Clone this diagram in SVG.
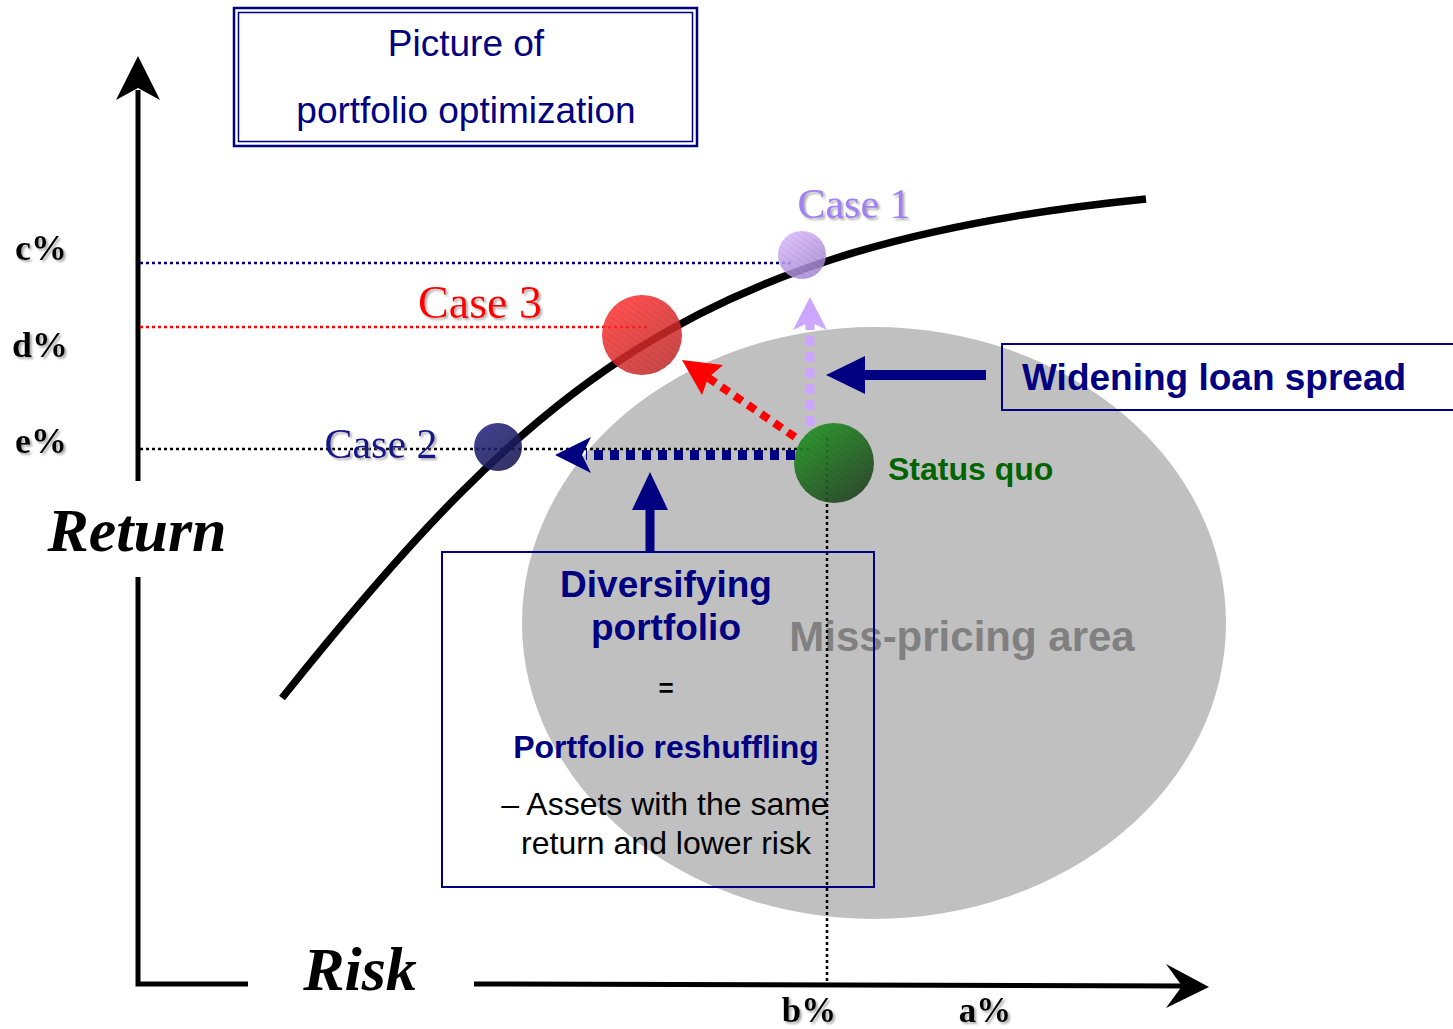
<svg xmlns="http://www.w3.org/2000/svg" width="1453" height="1029" viewBox="0 0 1453 1029">
  <defs>
    <style>
      .sans { font-family: "Liberation Sans", Arial, sans-serif; }
      .serif { font-family: "Liberation Serif", "Times New Roman", serif; }
      .navy { fill: #000080; }
      .axis { stroke: #000; stroke-width: 5; fill: none; }
      .guide { fill: none; stroke-width: 2.5; stroke-dasharray: 3 3; }
      .frame { fill: none; stroke: #000080; }
      .shadow { filter: url(#soft-shadow); }
    </style>
    <filter id="soft-shadow" x="-10%" y="-20%" width="130%" height="150%">
      <feDropShadow dx="2" dy="2" stdDeviation="0.8" flood-color="#888" flood-opacity="0.7"/>
    </filter>
    <pattern id="hatch" width="5" height="5" patternUnits="userSpaceOnUse" patternTransform="rotate(-55)">
      <line x1="0" y1="0" x2="0" y2="5" stroke="#000" stroke-width="1" stroke-opacity="0.12"/>
    </pattern>
    <linearGradient id="g-lav" x1="0.2" y1="0.1" x2="0.8" y2="0.9">
      <stop offset="0" stop-color="#D6B4FA"/>
      <stop offset="1" stop-color="#A486D2"/>
    </linearGradient>
    <linearGradient id="g-red" x1="0.2" y1="0.1" x2="0.8" y2="0.9">
      <stop offset="0" stop-color="#FF3030"/>
      <stop offset="1" stop-color="#C02828"/>
    </linearGradient>
    <linearGradient id="g-navy" x1="0.2" y1="0.1" x2="0.8" y2="0.9">
      <stop offset="0" stop-color="#262680"/>
      <stop offset="1" stop-color="#181852"/>
    </linearGradient>
    <linearGradient id="g-green" x1="0.2" y1="0.1" x2="0.8" y2="0.9">
      <stop offset="0" stop-color="#228E22"/>
      <stop offset="1" stop-color="#224622"/>
    </linearGradient>
  </defs>

  <rect width="1453" height="1029" fill="#fff"/>

  <!-- region of mis-priced loans -->
  <g id="miss-pricing-area">
    <ellipse cx="874" cy="623" rx="352" ry="296" fill="#C0C0C0"/>
    <text class="sans" x="962" y="651" font-size="42" font-weight="bold" fill="#808080" text-anchor="middle">Miss-pricing area</text>
  </g>

  <!-- axes -->
  <g id="axes">
    <line class="axis" x1="138" y1="481" x2="138" y2="90"/>
    <polygon points="138,56 160,100 138,88 116,100" fill="#000"/>
    <polyline class="axis" points="138,577 138,984 248,984"/>
    <line class="axis" x1="474" y1="984" x2="1190" y2="986"/>
    <polygon points="1209,987 1166,1008 1182,986 1166,964" fill="#000"/>
    <text class="serif" x="137" y="551" font-size="62" font-weight="bold" font-style="italic" text-anchor="middle">Return</text>
    <text class="serif" x="360" y="990" font-size="62" font-weight="bold" font-style="italic" text-anchor="middle">Risk</text>
  </g>

  <!-- axis tick labels -->
  <g id="tick-labels" class="serif shadow" font-size="36" font-weight="bold" text-anchor="middle">
    <text x="41" y="260">c%</text>
    <text x="40" y="357">d%</text>
    <text x="41" y="453">e%</text>
    <text x="809" y="1022" font-size="35">b%</text>
    <text x="985" y="1022" font-size="35">a%</text>
  </g>

  <!-- reference lines -->
  <g id="guides">
    <line class="guide" x1="140" y1="263" x2="794" y2="263" stroke="#000080"/>
    <line class="guide" x1="140" y1="327" x2="650" y2="327" stroke="#FF0000"/>
    <line class="guide" x1="140" y1="449" x2="810" y2="449" stroke="#000"/>
    <line class="guide" x1="827" y1="438" x2="827" y2="982" stroke="#000"/>
  </g>

  <!-- efficient frontier -->
  <g id="frontier">
    <path d="M282,698 C532,385 696,244 1146,199" fill="none" stroke="#000" stroke-width="7.5"/>
  </g>

  <!-- cases -->
  <g id="case-1">
    <circle cx="802" cy="255" r="24" fill="url(#g-lav)" fill-opacity="0.85"/>
    <circle cx="802" cy="255" r="24" fill="url(#hatch)"/>
    <text class="serif shadow" x="854" y="218" font-size="42" fill="#A080F2" text-anchor="middle">Case 1</text>
  </g>
  <g id="case-3">
    <circle cx="642" cy="335" r="40" fill="url(#g-red)" fill-opacity="0.85"/>
    <circle cx="642" cy="335" r="40" fill="url(#hatch)"/>
    <text class="serif shadow" x="480" y="318" font-size="46" fill="#FF0000" text-anchor="middle">Case 3</text>
  </g>
  <g id="case-2">
    <circle cx="498" cy="447" r="24" fill="url(#g-navy)" fill-opacity="0.88"/>
    <circle cx="498" cy="447" r="24" fill="url(#hatch)"/>
    <text class="serif shadow" x="381" y="458" font-size="42" fill="#14148A" text-anchor="middle">Case 2</text>
  </g>
  <g id="status-quo">
    <circle cx="834" cy="463" r="40" fill="url(#g-green)" fill-opacity="0.92"/>
    <circle cx="834" cy="463" r="40" fill="url(#hatch)"/>
    <text class="sans" x="888" y="480" font-size="32" font-weight="bold" fill="#006400">Status quo</text>
  </g>

  <!-- moves away from the status quo -->
  <g id="connectors">
    <line x1="795" y1="455" x2="586" y2="455" stroke="#000080" stroke-width="10" stroke-dasharray="9 7"/>
    <polygon points="555,455 591,437 582,455 591,473" fill="#000080"/>
    <line x1="795" y1="437" x2="707" y2="377" stroke="#FF0000" stroke-width="8" stroke-dasharray="9 7"/>
    <polygon points="682,360 723,365 708,378 702,395" fill="#FF0000"/>
    <line x1="810" y1="426" x2="810" y2="321" stroke="#CCA6FF" stroke-width="9" stroke-dasharray="10 6"/>
    <polygon points="810,297 827,330 810,322 793,330" fill="#CCA6FF"/>
    <line x1="986" y1="375" x2="860" y2="375" stroke="#000080" stroke-width="10"/>
    <polygon points="826,375 865,356 865,394" fill="#000080"/>
    <line x1="650" y1="551" x2="650" y2="505" stroke="#000080" stroke-width="9"/>
    <polygon points="650,472 668,510 632,510" fill="#000080"/>
  </g>

  <!-- explanation boxes -->
  <g id="widening-loan-spread">
    <rect class="frame" x="1002" y="344" width="460" height="66" fill="#fff" stroke-width="2"/>
    <text class="sans navy" x="1022" y="390" font-size="37" font-weight="bold">Widening loan spread</text>
  </g>
  <g id="diversifying-portfolio" text-anchor="middle">
    <rect class="frame" x="442" y="552" width="432" height="335" stroke-width="2"/>
    <text class="sans navy" x="666" y="597" font-size="37" font-weight="bold">Diversifying</text>
    <text class="sans navy" x="666" y="640" font-size="37" font-weight="bold">portfolio</text>
    <text class="sans" x="666" y="697" font-size="26" font-weight="bold">=</text>
    <text class="sans navy" x="666" y="758" font-size="32" font-weight="bold">Portfolio reshuffling</text>
    <text class="sans" x="665" y="815" font-size="32">– Assets with the same</text>
    <text class="sans" x="666" y="854" font-size="32">return and lower risk</text>
  </g>

  <g id="title">
    <rect class="frame" x="234" y="8" width="463" height="138" stroke-width="2.5"/>
    <rect class="frame" x="238.5" y="12.5" width="454" height="129" stroke-width="1.5"/>
    <text class="sans navy" x="466" y="56" font-size="37" text-anchor="middle">Picture of</text>
    <text class="sans navy" x="466" y="123" font-size="37" text-anchor="middle">portfolio optimization</text>
  </g>
</svg>
